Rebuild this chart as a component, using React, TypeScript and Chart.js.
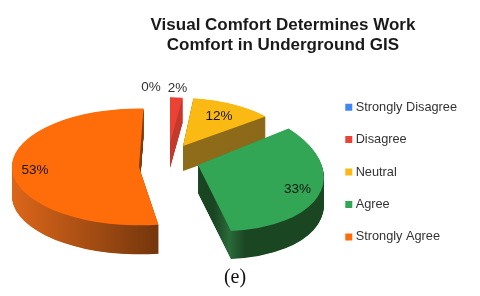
import React, { useEffect, useRef } from "react";
import { Chart, registerables } from "chart.js";

Chart.register(...registerables);

const categories = ["Strongly Disagree", "Disagree", "Neutral", "Agree", "Strongly Agree"];
const shares = [0, 2, 12, 33, 53];
const topColors = ["#4285f4", "#ea4335", "#fbb914", "#32a655", "#ff6d0a"];
const titleLines = ["Visual Comfort Determines Work", "Comfort in Underground GIS"];
const caption = "(e)";

// Look of the tilted, exploded pie: per-slice styling only, angles come from Chart.js.
const explodeX = [0, 2, 15, 30, -29];
const explodeY = [-24, -24, -21, -2, 0];
const widthScale = [0.78, 0.79, 0.865, 0.985, 1];
const heightScale = [0.36, 0.36, 0.38, 0.52, 0.46];
const shear = [-3.5, -3.5, -7.2, -14, 0];
const shearY = [0, 0, 0, 5, 0];
const depths = [25, 25, 25, 28, 29];
const labelReach = [1.22, 1.2, 0.72, 0.82, 0.82];
const wallStops = [
  ["#2a5aa8", "#2a5aa8"],
  ["#c5392c", "#c5392c"],
  ["#8f6c1a", "#8a6818"],
  ["#1a4522", "#1a4522", "#2a6a3a", "#1b4622", "#1b4622"],
  ["#dc661a", "#73360c"],
];
const wallFrom = [0, 0, 0, 0, -1];
const wallTo = [1, 1, 1, 0.5, 0.16];

const pie3d = {
  id: "pie3d",
  beforeDatasetsDraw(chart: any) {
    const ctx = chart.ctx;
    const meta = chart.getDatasetMeta(0);
    const total = shares.reduce((s, v) => s + v, 0);
    const cx = chart.width * 0.35;
    const cy = chart.height * 0.564;
    const poses = meta.data.map((el: any, i: number) => {
      const mid = (el.startAngle + el.endAngle) / 2 + Math.PI / 2;
      return {
        i, el,
        c: Math.cos(mid),
        s: Math.sin(mid),
        ax: cx + explodeX[i],
        ay: cy + explodeY[i],
        a: el.outerRadius * widthScale[i],
        b: el.outerRadius * heightScale[i],
        sh: shear[i],
        shy: shearY[i],
        d: depths[i],
      };
    });
    const order = [...poses].sort((p: any, q: any) => q.c - p.c);
    const path = (p: any, off: number) => {
      ctx.save();
      ctx.transform(p.a, p.shy, -p.sh, p.b, p.ax, p.ay + off);
      ctx.beginPath();
      ctx.moveTo(0, 0);
      ctx.arc(0, 0, 1, p.el.startAngle, p.el.endAngle);
      ctx.closePath();
      ctx.restore();
    };
    for (const p of order) {
      if (shares[p.i] === 0) continue;
      const grad = ctx.createLinearGradient(p.ax + wallFrom[p.i] * p.a, 0, p.ax + wallTo[p.i] * p.a, 0);
      const stops = wallStops[p.i];
      stops.forEach((col: string, n: number) => grad.addColorStop(n / (stops.length - 1), col));
      ctx.fillStyle = grad;
      for (let k = p.d; k > 0; k -= 0.5) {
        path(p, k);
        ctx.fill();
      }
      ctx.fillStyle = topColors[p.i];
      path(p, 0);
      ctx.fill();
    }
    ctx.font = "13.5px 'Liberation Sans'";
    ctx.textAlign = "center";
    ctx.textBaseline = "middle";
    for (const p of poses) {
      const pct = Math.round((shares[p.i] / total) * 100);
      const fr = labelReach[p.i];
      let x = p.ax + fr * (p.a * p.s + p.sh * p.c);
      const y = p.ay - p.b * fr * p.c + fr * p.shy * p.s;
      if (shares[p.i] === 0) x -= 17;
      ctx.fillStyle = pct < 5 ? "#333" : "#151515";
      ctx.fillText(pct + "%", x, y);
    }
    return false;
  },
};

export default function App() {
  const ref = useRef<HTMLCanvasElement>(null);
  useEffect(() => {
    document.body.style.margin = "0";
    const chart = new Chart(ref.current as HTMLCanvasElement, {
      type: "pie",
      data: {
        labels: categories,
        datasets: [{ data: shares, backgroundColor: topColors, borderWidth: 0 }],
      },
      plugins: [pie3d],
      options: {
        animation: false,
        responsive: false,
        rotation: 2,
        radius: 127,
        layout: { padding: { left: 99, right: 13, top: 15, bottom: 33 } },
        plugins: {
          tooltip: { enabled: false },
          title: {
            display: true,
            text: titleLines,
            color: "#1a1a1a",
            font: { family: "'Liberation Sans'", size: 17, weight: "bold", lineHeight: 1.18 },
            padding: { top: 0, bottom: 0 },
          },
          legend: {
            position: "right",
            align: "end",
            labels: {
              usePointStyle: true,
              pointStyle: "rect",
              boxWidth: 1,
              boxHeight: 7,
              padding: 19.7,
              color: "#333",
              font: { family: "'Liberation Sans'", size: 12.75 },
            },
          },
        },
      },
    } as any);
    return () => chart.destroy();
  }, []);
  return (
    <div style={{ position: "relative", width: 480, height: 296, filter: "blur(0.35px)" }}>
      <canvas ref={ref} width={480} height={296} style={{ display: "block" }} />
      <div
        style={{
          position: "absolute",
          left: 0,
          width: 470,
          top: 265,
          textAlign: "center",
          font: "20px 'Liberation Serif'",
          color: "#111",
        }}
      >
        {caption}
      </div>
    </div>
  );
}
